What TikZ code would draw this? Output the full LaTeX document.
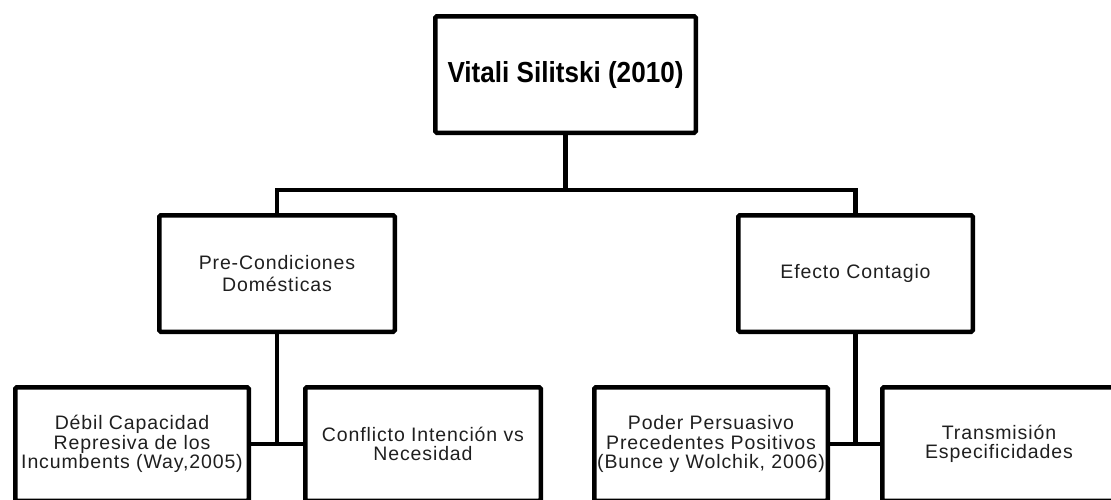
\documentclass[tikz,border=0pt]{standalone}
\usepackage{fontspec}
\setmainfont{Liberation Sans}
\newfontfamily\bodyfont[LetterSpace=4.5]{Liberation Sans}
\newfontfamily\titlefont[FakeStretch=0.9]{Liberation Sans}
\begin{document}
\begin{tikzpicture}[x=1pt,y=-1pt,
  box/.style={draw, line width=4.5pt, rounded corners=1.5pt, align=center,
    inner sep=0pt, text=black!88, font=\bodyfont\fontsize{19.5}{19.3}\selectfont},
  link/.style={line width=4.5pt}]
\useasboundingbox (0,0) rectangle (1111,499);
\clip (0,0) rectangle (1111,499);
\fill[white] (0,0) rectangle (1111,499);

\node[box, minimum width=260.5pt, minimum height=116.5pt, text=black,
  font=\titlefont\bfseries\fontsize{29}{32}\selectfont] (top) at (565.5,74.5) {Vitali Silitski (2010)};

\node[box, minimum width=235.5pt, minimum height=116.5pt,
  font=\bodyfont\fontsize{19.5}{22}\selectfont] (pre) at (277,273.5) {Pre-Condiciones\\Domésticas};
\node[box, minimum width=234.5pt, minimum height=116.5pt] (efe) at (855.5,273.5) {Efecto Contagio};

\node[box, minimum width=233.5pt, minimum height=113.5pt] (d1) at (132,444) {Débil Capacidad\\Represiva de los\\Incumbents (Way,2005)};
\node[box, minimum width=235.5pt, minimum height=113.5pt] (d2) at (423,444) {Conflicto Intención vs\\Necesidad};
\node[box, minimum width=233.5pt, minimum height=113.5pt] (d3) at (711,444) {Poder Persuasivo\\Precedentes Positivos\\(Bunce y Wolchik, 2006)};
\node[box, minimum width=233.5pt, minimum height=113.5pt] (d4) at (999,444) {Transmisión\\Especificidades};

\coordinate (j) at (565.5,190);
\draw[link] (top.south) -- (j);
\draw[link] (pre.north) |- (j) -| (efe.north);

\draw[link] (pre.south) -- (pre.south |- d1.east);
\draw[link] (d1.east) -- (d2.west);
\draw[link] (efe.south) -- (efe.south |- d3.east);
\draw[link] (d3.east) -- (d4.west);
\end{tikzpicture}
\end{document}
